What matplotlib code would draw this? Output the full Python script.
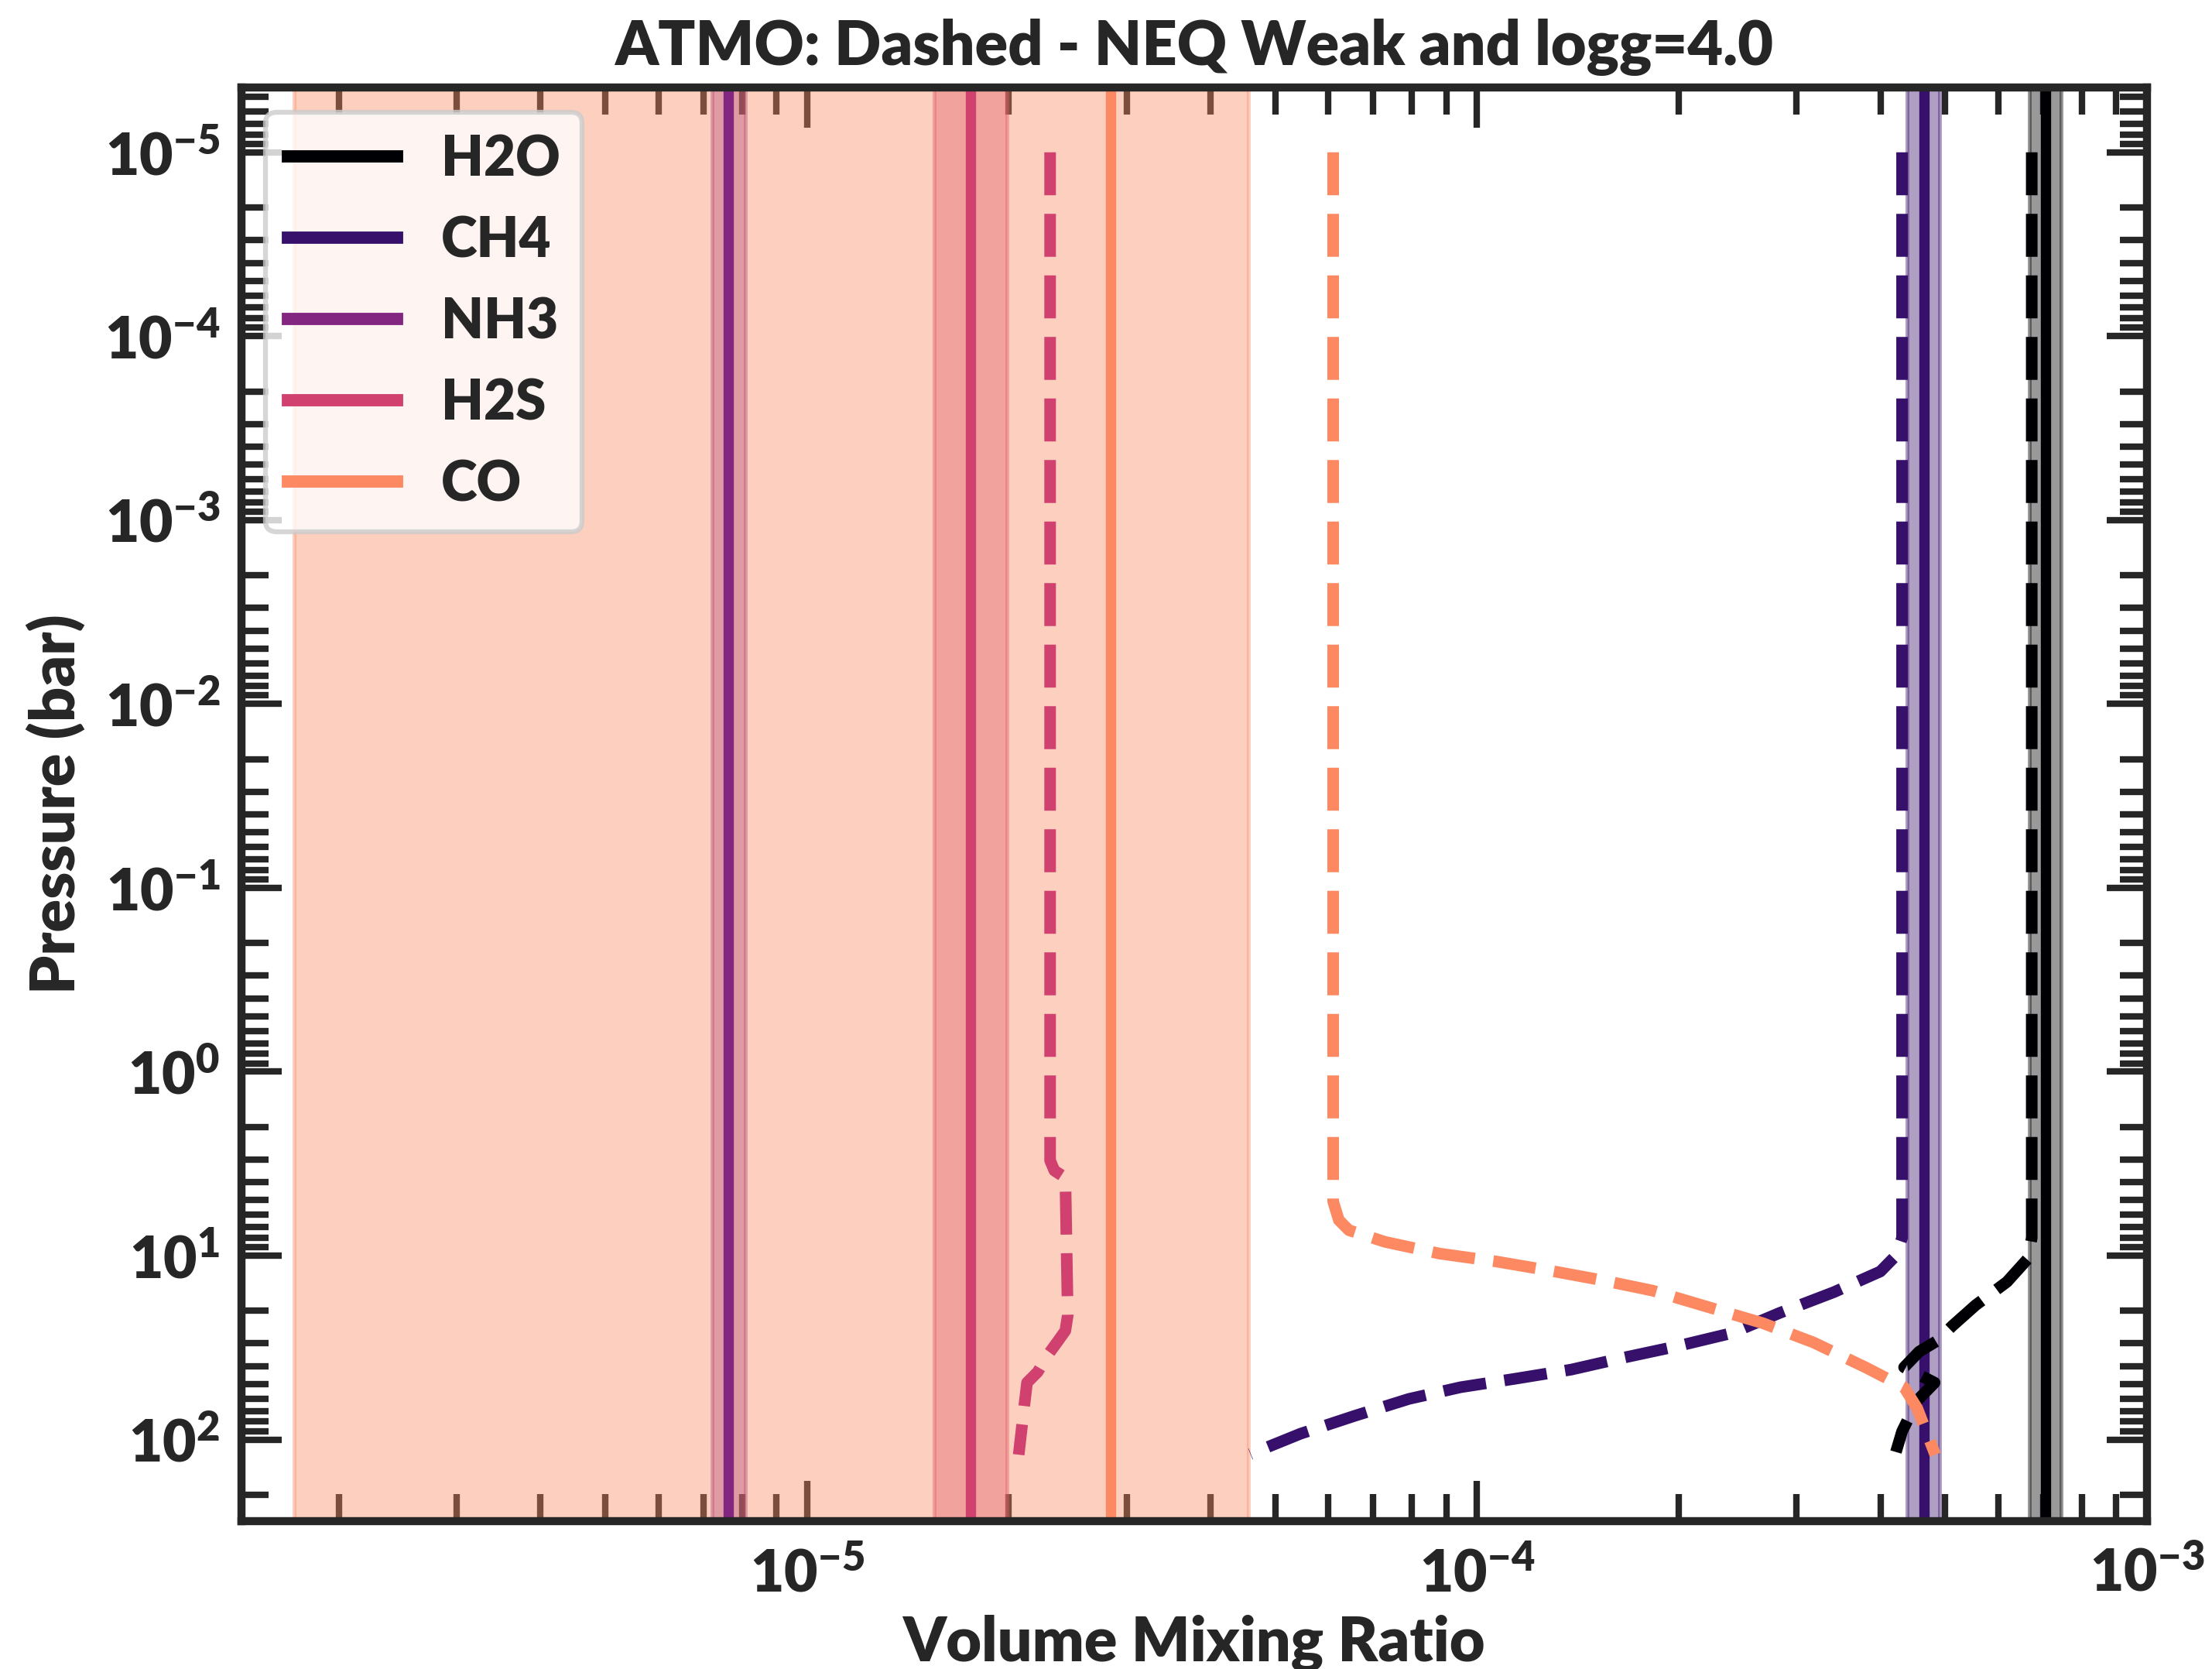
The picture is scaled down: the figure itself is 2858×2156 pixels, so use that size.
import numpy as np
import matplotlib
matplotlib.use("Agg")
import matplotlib.pyplot as plt
from matplotlib.ticker import LogLocator, NullFormatter

# species, colours and retrieved (free chemistry) abundances
species = ["H2O", "CH4", "NH3", "H2S", "CO"]
colors = ["#000004", "#36106b", "#832681", "#d0416f", "#fc8961"]
vmr_median = [7.05e-4, 4.65e-4, 7.64e-6, 1.754e-5, 2.84e-5]
vmr_low = [6.675e-4, 4.385e-4, 7.22e-6, 1.547e-5, 1.714e-6]
vmr_high = [7.44e-4, 4.90e-4, 8.09e-6, 1.988e-5, 4.56e-5]

# ATMO NEQ weak, logg=4.0 profiles (pressure in bar)
p_h2o = [1e-5, 8.01, 10.4, 13.9, 18.6, 24.0, 29.1, 33.3, 40.5, 49.1, 61.4, 90.4, 117]
x_h2o = [6.73e-4, 6.73e-4, 6.64e-4, 6.18e-4, 5.55e-4, 5.13e-4, 4.86e-4, 4.57e-4, 4.34e-4, 4.82e-4, 4.54e-4, 4.31e-4, 4.22e-4]
p_ch4 = [1e-5, 8.01, 10.0, 12.2, 15.8, 20.5, 26.4, 31.1, 36.0, 41.7, 46.8, 52.0, 60.2, 74.5, 93.1, 120]
x_ch4 = [4.31e-4, 4.31e-4, 4.22e-4, 4.00e-4, 3.41e-4, 2.83e-4, 2.40e-4, 1.99e-4, 1.65e-4, 1.382e-4,
         1.138e-4, 9.45e-5, 7.91e-5, 6.56e-5, 5.45e-5, 4.59e-5]
p_h2s = [1e-5, 3.04, 3.45, 3.77, 21.1, 25.6, 29.1, 35.3, 42.9, 49.1, 65.6, 121]
x_h2s = [2.306e-5, 2.306e-5, 2.34e-5, 2.43e-5, 2.45e-5, 2.43e-5, 2.37e-5, 2.28e-5, 2.21e-5, 2.13e-5, 2.11e-5, 2.07e-5]
p_co = [1e-5, 5.08, 6.41, 7.28, 8.42, 9.75, 10.74, 12.07, 13.66, 15.5, 19.2, 23.3, 29.7, 40.5, 52.0, 67.6, 121]
x_co = [6.10e-5, 6.10e-5, 6.22e-5, 6.44e-5, 7.29e-5, 8.79e-5, 1.064e-4, 1.285e-4, 1.545e-4, 1.828e-4,
        2.23e-4, 2.67e-4, 3.18e-4, 3.80e-4, 4.34e-4, 4.54e-4, 4.83e-4]

profiles = {"H2O": (x_h2o, p_h2o), "CH4": (x_ch4, p_ch4), "H2S": (x_h2s, p_h2s), "CO": (x_co, p_co)}

xticks = [1e-5, 1e-4, 1e-3]
yticks = [1e-5, 1e-4, 1e-3, 1e-2, 1e-1, 1e0, 1e1, 1e2]

plt.rcParams["font.family"] = ["Lato", "DejaVu Sans"]
plt.rcParams["font.weight"] = "heavy"
plt.rcParams["mathtext.fontset"] = "custom"
plt.rcParams["mathtext.rm"] = "Lato:heavy"
plt.rcParams["mathtext.bf"] = "Lato:heavy"
plt.rcParams["mathtext.it"] = "Lato:heavy"
plt.rcParams["mathtext.default"] = "bf"
plt.rcParams["text.color"] = "#262626"
plt.rcParams["axes.labelcolor"] = "#262626"
plt.rcParams["xtick.color"] = "#262626"
plt.rcParams["ytick.color"] = "#262626"
plt.rcParams["axes.axisbelow"] = True

fig, ax = plt.subplots(figsize=(2858 / 300, 2156 / 300), dpi=300)
fig.subplots_adjust(left=0.109, right=0.9706, bottom=0.0886, top=0.9476)

for name, c, med, lo, hi in zip(species, colors, vmr_median, vmr_low, vmr_high):
    ax.axvspan(lo, hi, color=c, alpha=0.4, lw=1.2)
    ax.axvline(med, color=c, lw=3.2, label=name)

for name, c in zip(species, colors):
    if name in profiles:
        xs, ps = profiles[name]
        ax.plot(xs, ps, color=c, lw=3.6, ls="--")

ax.set_xscale("log")
ax.set_yscale("log")
ax.set_xticks(xticks)
ax.set_yticks(yticks)
ax.set_xlim(1.43e-6, 1e-3)
ax.set_ylim(278, 4.44e-6)

for axis in [ax.xaxis, ax.yaxis]:
    axis.set_minor_locator(LogLocator(base=10, subs=np.arange(2, 10), numticks=100))
    axis.set_minor_formatter(NullFormatter())

ax.tick_params(which="both", direction="in", top=True, right=True, width=2, labelsize=18)
ax.tick_params(which="major", length=12.5)
ax.tick_params(axis="x", which="major", pad=8)
ax.tick_params(axis="y", which="major", pad=6.5)
ax.tick_params(which="minor", length=8.5)
for s in ax.spines.values():
    s.set_linewidth(2.5)
    s.set_color("#262626")

ax.set_xlabel("Volume Mixing Ratio", fontsize=19, fontweight="heavy", labelpad=4)
ax.set_ylabel("Pressure (bar)", fontsize=19, fontweight="heavy", labelpad=6)
ax.set_title("ATMO: Dashed - NEQ Weak and logg=4.0", fontsize=19, fontweight="heavy", pad=7)

leg = ax.legend(loc="upper left", fontsize=17, framealpha=0.8, edgecolor="0.8",
                borderaxespad=0.45, labelspacing=0.55)
leg.get_frame().set_linewidth(1.5)
for line in leg.get_lines():
    line.set_linewidth(3.8)

fig.savefig("out.png", dpi=300)
